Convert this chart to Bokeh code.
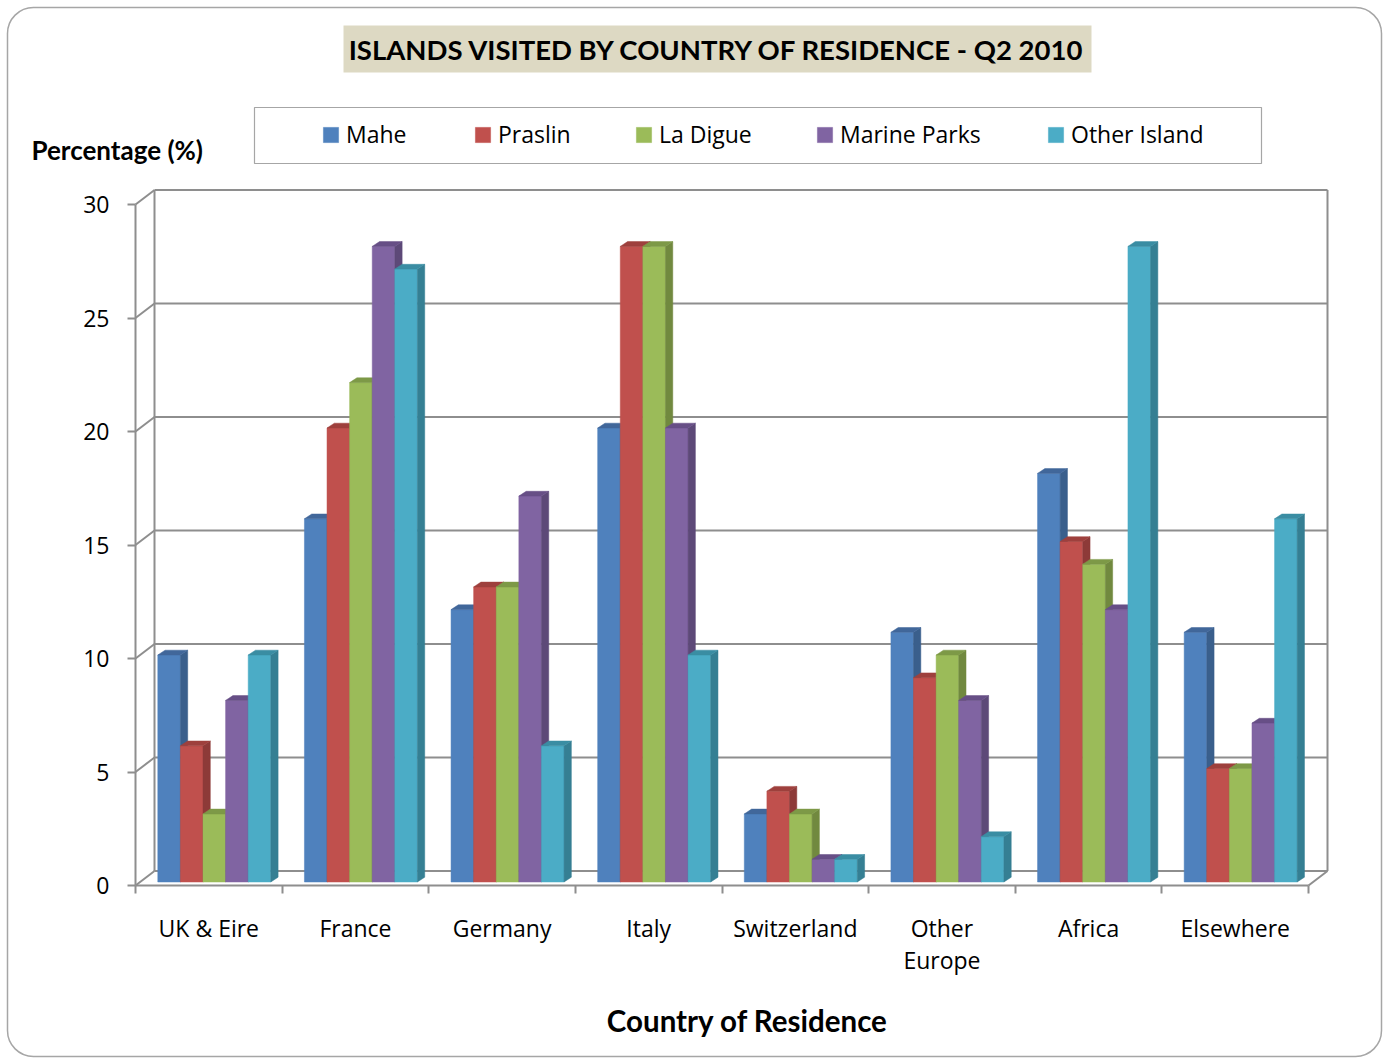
import numpy as np
from bokeh.plotting import figure
from bokeh.models import Range1d, LinearAxis, FixedTicker, Label, Legend, LegendItem
from bokeh.embed import file_html
from bokeh.resources import INLINE

# ---------------- data ----------------
categories = ["UK & Eire", "France", "Germany", "Italy", "Switzerland",
              "Other\nEurope", "Africa", "Elsewhere"]
series_names = ["Mahe", "Praslin", "La Digue", "Marine Parks", "Other Island"]
mahe = [10, 16, 12, 20, 3, 11, 18, 11]
praslin = [6, 20, 13, 28, 4, 9, 15, 5]
la_digue = [3, 22, 13, 28, 3, 10, 14, 5]
marine_parks = [8, 28, 17, 20, 1, 8, 12, 7]
other_island = [10, 27, 6, 10, 1, 2, 28, 16]
y_ticks = [0, 5, 10, 15, 20, 25, 30]
title_text = "ISLANDS VISITED BY COUNTRY OF RESIDENCE - Q2 2010"
y_title = "Percentage (%)"
x_title = "Country of Residence"

series_values = [mahe, praslin, la_digue, marine_parks, other_island]
front_colors = ["#4F81BD", "#C0504D", "#9BBB59", "#8064A2", "#4BACC6"]
side_colors = ["#3A5F8C", "#8D3A38", "#71893F", "#5D4978", "#357F93"]
top_colors = ["#41679A", "#9E403D", "#7D9947", "#674F86", "#3A8DA3"]

# ---------------- geometry (pixel layout -> data units) ----------------
W, H = 1387, 1059
nc = len(categories)
ymax = y_ticks[-1]
X0, XN = 135, 1308
SX = (XN - X0) / nc
Y0, YT = 885, 204
SY = (Y0 - YT) / ymax


def dx(px):
    return (px - X0) / SX


def dy(py):
    return (Y0 - py) / SY


BDX, BDY = 19 / SX, 14.5 / SY          # wall depth
BAR_OFF, BAR_W = 22.3 / SX, 22.6 / SX  # bar placement
LIFT = 3.5 / SY
SDX, SDY = 7.3 / SX, 4.8 / SY          # bar depth

p = figure(width=W, height=H, x_range=Range1d(dx(0), dx(W)), y_range=Range1d(dy(H), dy(0)),
           x_axis_type=None, y_axis_type=None, toolbar_location=None, output_backend="svg",
           min_border=0, outline_line_color=None,
           background_fill_color="white", border_fill_color="white")

# outer rounded frame
p.quad(left=dx(7), right=dx(1381), top=dy(7), bottom=dy(1056), fill_color=None,
       line_color="#A6A6A6", line_width=1.5, border_radius=26)

# title box
p.quad(left=dx(343), right=dx(1091), top=dy(25), bottom=dy(72), fill_color="#DDD9C3",
       line_color=None)
p.add_layout(Label(x=dx(717), y=dy(49), text=title_text, text_align="center",
                   text_baseline="middle", text_font="Lato", text_font_style="bold",
                   text_font_size="27.5px", text_color="black"))

# legend box
p.quad(left=dx(254), right=dx(1261), top=dy(107), bottom=dy(163), fill_color="white",
       line_color="#A6A6A6", line_width=1.2)

# axis titles
p.add_layout(Label(x=dx(31), y=dy(149), text=y_title, text_align="left",
                   text_baseline="middle", text_font="Lato", text_font_style="bold",
                   text_font_size="26px", text_color="black"))
p.add_layout(Label(x=dx(747), y=dy(1020), text=x_title, text_align="center",
                   text_baseline="middle", text_font="Lato", text_font_style="bold",
                   text_font_size="29.5px", text_color="black"))

# walls
grid_col = "#8E8E8E"
tk = np.array(y_ticks, dtype=float)
p.segment(x0=[BDX] * len(tk), y0=tk + BDY, x1=[nc + BDX] * len(tk), y1=tk + BDY,
          line_color=grid_col, line_width=2)
p.segment(x0=[0] * len(tk), y0=tk, x1=[BDX] * len(tk), y1=tk + BDY,
          line_color=grid_col, line_width=2)
p.segment(x0=[0, BDX, nc + BDX], y0=[0, BDY, BDY], x1=[0, BDX, nc + BDX],
          y1=[ymax, ymax + BDY, ymax + BDY], line_color=grid_col, line_width=2)
p.segment(x0=[0, nc], y0=[0, 0], x1=[nc, nc + BDX], y1=[0, BDY],
          line_color=grid_col, line_width=2)

# bars
front_renderers = []
for j, vals in enumerate(series_values):
    v = np.array(vals, dtype=float)
    left = np.arange(nc) + BAR_OFF + j * BAR_W
    right = left + BAR_W
    bot = np.full(nc, LIFT)
    top = v + LIFT
    r = p.quad(left=left, right=right, bottom=bot, top=top, fill_color=front_colors[j],
               line_color=front_colors[j], line_width=0.5)
    front_renderers.append(r)
    p.patches(xs=[[a, a + SDX, a + SDX, a] for a in right],
              ys=[[b, b + SDY, t + SDY, t] for b, t in zip(bot, top)],
              fill_color=side_colors[j], line_color=side_colors[j], line_width=0.5)
    p.patches(xs=[[l, rr, rr + SDX, l + SDX] for l, rr in zip(left, right)],
              ys=[[t, t, t + SDY, t + SDY] for t in top],
              fill_color=top_colors[j], line_color=top_colors[j], line_width=0.5)

# axes
yax = LinearAxis(fixed_location=0, ticker=FixedTicker(ticks=y_ticks),
                 axis_line_color=None, major_tick_line_color=grid_col,
                 major_tick_line_width=2, major_tick_out=8, major_tick_in=0,
                 minor_tick_line_color=None, major_label_standoff=18,
                 major_label_text_font="Open Sans", major_label_text_font_size="23px",
                 major_label_text_color="black")
p.add_layout(yax, "left")

xtick_ax = LinearAxis(fixed_location=0, ticker=FixedTicker(ticks=list(range(nc + 1))),
                      axis_line_color=None, major_tick_line_color=grid_col,
                      major_tick_line_width=2, major_tick_out=8, major_tick_in=0,
                      minor_tick_line_color=None,
                      major_label_overrides={i: "" for i in range(nc + 1)})
p.add_layout(xtick_ax, "below")

centers = [i + 0.5 for i in range(nc)]
xlab_ax = LinearAxis(fixed_location=0, ticker=FixedTicker(ticks=centers),
                     axis_line_color=None, major_tick_line_color=None,
                     minor_tick_line_color=None, major_tick_out=0, major_tick_in=0,
                     major_label_standoff=26,
                     major_label_overrides={c: n for c, n in zip(centers, categories)},
                     major_label_text_font="Open Sans", major_label_text_font_size="23px",
                     major_label_text_line_height=1.0,
                     major_label_text_color="black")
p.add_layout(xlab_ax, "below")

# legends (one per item, to match the spacing of the original)
legend_px = [323, 475, 636, 817, 1048]
G = 19
for name, r, lx in zip(series_names, front_renderers, legend_px):
    lg = Legend(items=[LegendItem(label=name, renderers=[r])],
                location=(lx - 2, H - 150), orientation="horizontal", padding=0, margin=0,
                border_line_color=None, background_fill_alpha=0, glyph_width=G,
                glyph_height=G, label_standoff=6, label_height=G,
                label_text_font="Open Sans", label_text_font_size="23px",
                label_text_color="black")
    p.add_layout(lg, "center")

open("out.html", "w").write(file_html(p, INLINE))
